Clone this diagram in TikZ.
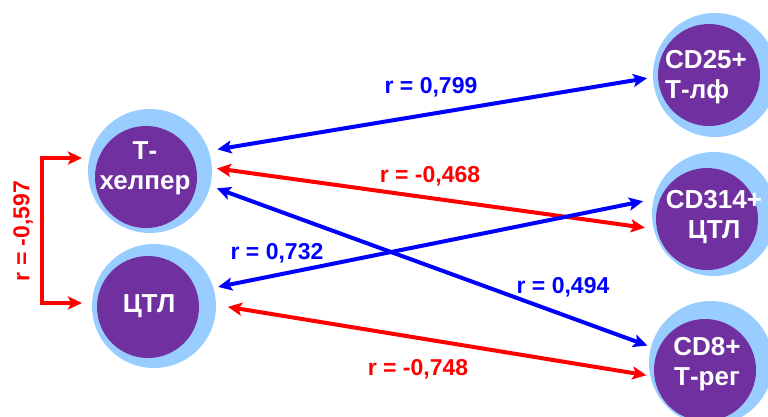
\documentclass[tikz,border=0pt]{standalone}
\usepackage{fontspec}
\setmainfont{Liberation Sans}
\usetikzlibrary{arrows.meta}
\definecolor{cellpurple}{HTML}{7030A0}
\definecolor{celllight}{HTML}{99CCFF}
\definecolor{lblue}{HTML}{0000FF}
\definecolor{lred}{HTML}{FF0000}
\begin{document}
\begin{tikzpicture}[x=1pt,y=-1pt,
  halo/.style={circle,fill=celllight,minimum size=124pt,inner sep=0pt,outer sep=0pt},
  core/.style={circle,fill=cellpurple,minimum size=102pt,inner sep=0pt,outer sep=0pt},
  celltext/.style={text=white,font=\fontsize{26}{30}\selectfont\bfseries,align=center,inner sep=0pt},
  lbl/.style={font=\fontsize{23}{26}\selectfont\bfseries,inner sep=0pt},
  conn/.style={line width=4pt,{Stealth[length=14pt,width=13pt,inset=3pt]}-{Stealth[length=14pt,width=13pt,inset=3pt]}}
]
\useasboundingbox (0,0) rectangle (768,416);
% halos
\node[halo] (thL)  at (150,171) {};
\node[halo] (ctlL) at (154,306) {};
\node[halo] (cdaL) at (715,75) {};
\node[halo] (cdbL) at (714,214) {};
\node[halo] (cdcL) at (711,363) {};
% cores
\node[core] (th)  at (146,177) {};
\node[core] (ctl) at (148,307) {};
\node[core] (cda) at (709,75) {};
\node[core] (cdb) at (707,219) {};
\node[core] (cdc) at (705,370) {};
% texts
\node[celltext] (tht)  at (145,168) {Т-\\хелпер};
\node[celltext] (ctlt) at (149,306) {ЦТЛ};
\node[celltext,align=left,anchor=west] (cdat) at (665,77.5) {CD25+\\Т-лф};
\node[celltext] (cdbt) at (714,217.5) {CD314+\\ЦТЛ};
\node[celltext] (cdct) at (707,364) {CD8+\\Т-рег};
% connectors
\draw[conn,lblue,shorten <=9pt,shorten >=6pt] (thL.19) -- (cdaL.182);
\draw[conn,lred,shorten <=5pt,shorten >=9pt] (thL.3) -- (cdbL.194);
\draw[conn,lblue,shorten <=7pt,shorten >=4pt] (thL.346) -- (cdcL.165);
\draw[conn,lblue,shorten <=5pt,shorten >=11pt] (ctlL.17) -- (cdbL.166);
\draw[conn,lred,shorten <=12pt,shorten >=4pt] (ctlL.1) -- (cdcL.192);
% bracket
\coordinate (brT) at (82,158);
\coordinate (brB) at (82,303);
\draw[conn,lred] (brT) -- ++(-40,0) |- (brB);
% labels
\node[lbl,text=lblue] (l1) at (431,87) {r = 0,799};
\node[lbl,text=lred]  (l2) at (430,176) {r = -0,468};
\node[lbl,text=lblue] (l3) at (277,253) {r = 0,732};
\node[lbl,text=lblue] (l4) at (563,287) {r = 0,494};
\node[lbl,text=lred]  (l5) at (418,369) {r = -0,748};
\node[lbl,text=lred,rotate=90] (l6) at (23,231) {r = -0,597};
\end{tikzpicture}
\end{document}
